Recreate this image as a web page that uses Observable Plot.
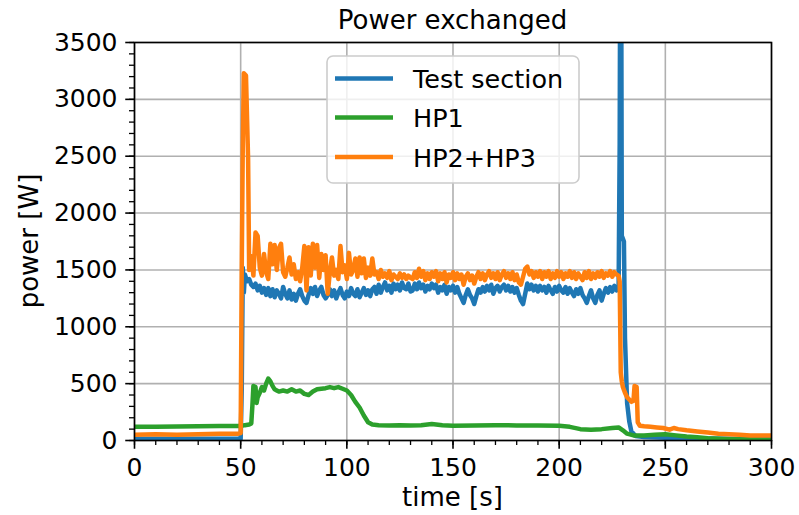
<!DOCTYPE html>
<html>
<head>
<meta charset="utf-8">
<script src="https://cdn.jsdelivr.net/npm/d3@7"></script>
<script src="https://cdn.jsdelivr.net/npm/@observablehq/plot@0.6"></script>
<style>
  html, body { margin: 0; padding: 0; background: white; }
  svg { font-family: "DejaVu Sans", sans-serif; }
</style>
</head>
<body>
<div id="chart"></div>
<script>
// ---- Data ----
const titleText = "Power exchanged";
const xLabel = "time [s]";
const yLabel = "power [W]";
const seriesNames = ["Test section", "HP1", "HP2+HP3"];
const seriesColors = ["#1f77b4", "#2ca02c", "#ff7f0e"];

const xMajorTicks = [0, 50, 100, 150, 200, 250, 300];
const xMinorTicks = [0,10,20,30,40,50,60,70,80,90,100,110,120,130,140,150,160,170,180,190,200,210,220,230,240,250,260,270,280,290,300];
const yMajorTicks = [0, 500, 1000, 1500, 2000, 2500, 3000, 3500];
const yMinorTicks = [0,100,200,300,400,500,600,700,800,900,1000,1100,1200,1300,1400,1500,1600,1700,1800,1900,2000,2100,2200,2300,2400,2500,2600,2700,2800,2900,3000,3100,3200,3300,3400,3500];

// Test section
const testTime = [0,10,20,30,40,50,50.5,51,51.5,
52,53,54,55,56,57,58,59,60,61,62,63,64,65,66,67,68,69,70,71,72,73,74,75,76,77,78,79,80,81,82,83,84,85,86,87,88,89,90,91,92,93,94,95,96,97,98,99,100,101,102,103,104,105,106,107,108,109,110,111,112,113,114,115,116,117,118,119,120,121,122,123,124,125,126,127,128,129,130,
131,132,133,134,135,136,137,138,139,140,141,142,143,144,145,146,147,148,149,150,151,152,153,154,155,156,157,158,159,160,161,162,163,164,165,166,167,168,169,170,171,172,173,174,175,176,177,178,179,180,181,182,183,184,185,186,187,188,189,190,191,192,193,194,195,196,197,198,199,200,201,202,203,204,205,206,207,208,209,210,211,212,213,214,215,216,217,218,219,220,221,222,223,224,225,226,227,228,
228.5,229,229.5,230.5,231,232,233,234,236,240,250,260,270,280,290,300];
const testPower = [15,15,16,15,16,16,450,1520,1300,
1460,1400,1420,1370,1350,1380,1320,1360,1300,1340,
1280,1340,1270,1330,1260,1320,1290,1250,1350,1290,
1250,1320,1240,1290,1230,1290,1330,1270,1230,1210,
1280,1340,1290,1350,1270,1320,1350,1280,1250,1280,
1330,1270,1320,1250,1300,1340,1280,1250,1310,1270,
1340,1290,1270,1330,1260,1300,1340,1280,1320,1270,
1330,1350,1290,1370,1300,1350,1390,1320,1360,1300,
1380,1330,1370,1320,1390,1340,1330,1380,1310,
1320,1380,1330,1390,1340,1370,1310,1360,1330,1380,
1340,1370,1300,1350,1320,1370,1290,1350,1320,1360,
1300,1350,1290,1250,1210,1280,1330,1280,1250,1200,
1270,1330,1300,1350,1310,1360,1320,1370,1290,1340,
1360,1310,1350,1370,1320,1360,1310,1350,1300,1340,
1280,1230,1200,1290,1380,1330,1370,1320,1360,1310,
1360,1320,1350,1300,1360,1320,1290,1350,1310,1360,
1320,1300,1350,1290,1340,1300,1270,1330,1290,1340,
1280,1250,1210,1270,1320,1250,1210,1280,1320,1230,
1290,1340,1300,1350,1310,1360,1320,1350,
2600,6000,1800,1750,900,330,170,80,40,30,25,20,18,15,12,10];

// HP1
const hp1Time = [0,10,20,30,40,50,52,54,55,55.5,56,57,57.5,58,59,60,61,62,63,64,65,66,67,68,70,72,74,76,78,80,82,84,86,88,90,92,94,96,98,100,102,104,106,108,110,112,115,120,125,130,135,140,145,150,160,170,180,190,200,205,210,215,220,225,228,230,232,235,240,245,250,255,260,265,270,280,290,300];
const hp1Power = [120,122,123,125,127,128,135,140,150,300,480,470,330,380,420,470,440,500,545,520,480,450,440,430,440,430,450,430,440,410,400,430,450,455,460,470,460,470,455,440,400,340,290,220,160,140,135,132,135,133,135,145,135,130,132,135,133,132,130,120,100,95,100,110,115,90,60,45,45,50,55,45,35,28,20,12,8,5];

// HP2+HP3
const hp23Time = [0,10,20,30,40,49,50,50.5,51,51.5,52.5,53.5,54,55,56,57,58,59,60,61,62,63,64,65,66,67,68,69,70,71,72,73,74,75,76,77,78,79,80,81,82,83,84,85,86,87,88,89,90,91,92,93,94,95,96,97,98,99,100,101,102,103,104,105,106,107,108,109,110,111,112,113,114,115,116,117,118,119,120,121,122,123,124,125,126,127,128,129,130,
131,132,133,134,135,136,137,138,139,140,141,142,143,144,145,146,147,148,149,150,151,152,153,154,155,156,157,158,159,160,161,162,163,164,165,166,167,168,169,170,171,172,173,174,175,176,177,178,179,180,181,182,183,184,185,186,187,188,189,190,191,192,193,194,195,196,197,198,199,200,201,202,203,204,205,206,207,208,209,210,211,212,213,214,215,216,217,218,219,220,221,222,223,224,225,226,227,228,
228.5,229,229.5,230,231,232,233,234,235,235.5,236.5,237,238,240,243,246,249,252,254,256,260,265,270,275,280,285,290,295,300];
const hp23Power = [50,55,50,55,60,60,65,1500,2600,3230,3210,2480,1500,1620,1450,1830,1800,1520,1450,1640,1480,1420,1730,1550,1720,1500,1690,1730,1480,1440,1520,1610,1460,1550,1420,1480,1400,1520,1710,1320,1700,1450,1730,1520,1720,1430,1640,1500,1630,1290,1480,1610,1450,1500,1420,1710,1480,1540,1420,1650,1460,1500,1600,1440,1610,1470,1600,1430,1520,1450,1600,1460,1480,1420,1500,1440,1470,1430,1490,1410,1460,1440,1420,1470,1430,1460,1420,1450,1430,
1420,1480,1430,1510,1440,1490,1410,1470,1420,1480,
1440,1490,1400,1470,1420,1480,1390,1460,1430,1480,
1410,1470,1420,1460,1370,1440,1470,1410,1450,1380,
1440,1480,1420,1470,1410,1460,1490,1430,1470,1420,
1480,1410,1460,1490,1430,1470,1420,1480,1410,1460,
1390,1370,1440,1510,1530,1460,1490,1430,1480,1440,
1490,1420,1480,1440,1490,1420,1470,1430,1490,1440,
1480,1420,1470,1440,1490,1430,1480,1420,1470,1440,
1410,1480,1430,1490,1420,1470,1430,1480,1440,1490,
1430,1470,1450,1490,1440,1480,1460,1450,
1400,600,520,470,420,380,360,340,350,480,470,160,130,125,120,115,110,95,110,100,90,80,70,60,55,50,45,45,45];

// ---- Build tidy table from the arrays ----
const seriesTimes = [testTime, hp1Time, hp23Time];
const seriesValues = [testPower, hp1Power, hp23Power];
const rows = [];
seriesNames.forEach((name, i) => {
  seriesTimes[i].forEach((t, j) => rows.push({series: name, t, p: seriesValues[i][j]}));
});

const FS = 25;
const chart = Plot.plot({
  width: 799,
  height: 515,
  marginLeft: 134,
  marginRight: 28,
  marginTop: 42,
  marginBottom: 75,
  style: {fontFamily: "DejaVu Sans, sans-serif", fontSize: FS + "px", color: "black", background: "white", overflow: "visible"},
  x: {domain: [0, 300]},
  y: {domain: [0, 3500]},
  color: {domain: seriesNames, range: seriesColors},
  marks: [
    Plot.gridX(xMajorTicks, {stroke: "#b0b0b0", strokeOpacity: 1, strokeWidth: 1.6}),
    Plot.gridY(yMajorTicks, {stroke: "#b0b0b0", strokeOpacity: 1, strokeWidth: 1.6}),
    Plot.line(rows, {x: "t", y: "p", z: "series", stroke: "series", strokeWidth: 4.5, strokeLinejoin: "round", clip: true}),
    Plot.frame({stroke: "black", strokeWidth: 1.6}),
    Plot.axisX(xMinorTicks, {tickSize: 5, text: null, label: null, strokeWidth: 1.3, stroke: "black"}),
    Plot.axisX(xMajorTicks, {tickSize: 8.75, tickPadding: 8.5, tickFormat: d => String(d), label: null, strokeWidth: 1.6, stroke: "black", fill: "black", fontSize: FS}),
    Plot.axisY(yMinorTicks, {tickSize: 5, text: null, label: null, strokeWidth: 1.3, stroke: "black"}),
    Plot.axisY(yMajorTicks, {tickSize: 8.75, tickPadding: 8.25, tickFormat: d => String(d), label: null, strokeWidth: 1.6, stroke: "black", fill: "black", fontSize: FS})
  ]
});

document.getElementById("chart").appendChild(chart);

// ---- Title, axis labels, legend ----
const svg = d3.select(chart);
const cx = (134 + 771) / 2;
svg.append("text").attr("x", cx).attr("y", 29).attr("text-anchor", "middle")
  .attr("font-size", 26).attr("fill", "black").text(titleText);
svg.append("text").attr("x", cx).attr("y", 506).attr("text-anchor", "middle")
  .attr("font-size", 26).attr("fill", "black").text(xLabel);
svg.append("text").attr("transform", "translate(38,241) rotate(-90)").attr("text-anchor", "middle")
  .attr("font-size", 26).attr("fill", "black").text(yLabel);

const lg = svg.append("g");
lg.append("rect").attr("x", 327).attr("y", 56).attr("width", 252).attr("height", 127)
  .attr("rx", 6).attr("fill", "white").attr("fill-opacity", 0.8)
  .attr("stroke", "#cccccc").attr("stroke-width", 1.6);
const rowY = [78.5, 117.5, 157];
seriesNames.forEach((name, i) => {
  lg.append("line").attr("x1", 335).attr("x2", 393).attr("y1", rowY[i]).attr("y2", rowY[i])
    .attr("stroke", seriesColors[i]).attr("stroke-width", 4.5);
  lg.append("text").attr("x", 413).attr("y", rowY[i] + 9.5).attr("font-size", 25.5)
    .attr("text-anchor", "start").attr("fill", "black").text(name);
});
</script>
</body>
</html>
